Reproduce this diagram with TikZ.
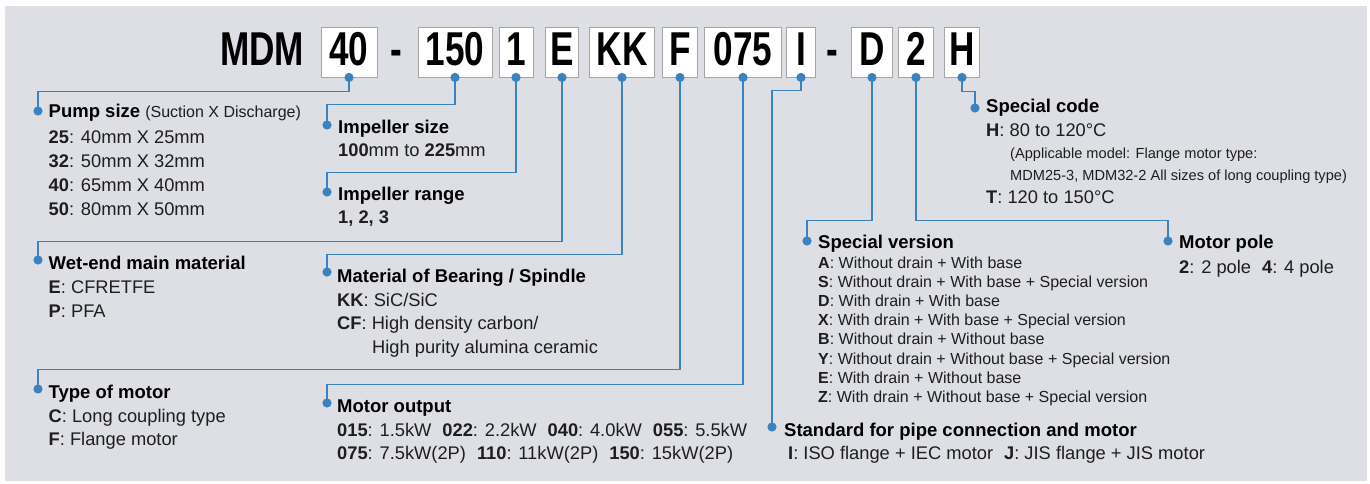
\documentclass[tikz,border=0pt]{standalone}
\usepackage{fontspec}
\setmainfont{Liberation Sans}
\newfontfamily\condfont[FakeStretch=0.74]{Liberation Sans}
\definecolor{bggray}{RGB}{222,223,228}
\definecolor{linkblue}{RGB}{58,130,192}
\definecolor{boxgray}{RGB}{165,165,165}
\definecolor{bodyblack}{RGB}{30,30,30}
\begin{document}
\begin{tikzpicture}[x=1pt,y=-1pt,
  link/.style={draw=linkblue, line width=1.4pt},
  codebox/.style={draw=boxgray, fill=white, line width=0.9pt, anchor=base, inner xsep=0pt, inner ysep=0pt, text height=39pt, text depth=11pt, font=\condfont\bfseries\fontsize{47.5}{50}\selectfont},
  bigtxt/.style={anchor=base, inner sep=0pt, font=\condfont\bfseries\fontsize{47.5}{50}\selectfont},
  ttl/.style={anchor=base west, inner sep=0pt, font=\bfseries\fontsize{18.5}{22}\selectfont},
  txt/.style={anchor=base west, inner sep=0pt, text=bodyblack, font=\fontsize{18.3}{21}\selectfont},
  smalltxt/.style={anchor=base west, inner sep=0pt, text=bodyblack, font=\fontsize{14.6}{18}\selectfont},
  svtxt/.style={anchor=base west, inner sep=0pt, text=bodyblack, font=\fontsize{16}{19}\selectfont}
]
\useasboundingbox (0,0) rectangle (1370,484);
\fill[white] (0,0) rectangle (1370,484);
\fill[bggray] (5,6) rectangle (1367,481);

% code line
\node[bigtxt] (mdm) at (262,66) {MDM};
\node[codebox, minimum width=56pt] (b40) at (349,66) {40};
\node[bigtxt] (dash1) at (396,66) {-};
\node[codebox, minimum width=74pt] (b150) at (455,66) {150};
\node[codebox, minimum width=34pt] (b1) at (516,66) {1};
\node[codebox, minimum width=33pt] (bE) at (562,66) {E};
\node[codebox, minimum width=65pt] (bKK) at (622,66) {KK};
\node[codebox, minimum width=35pt] (bF) at (680,66) {F};
\node[codebox, minimum width=77pt] (b075) at (743,66) {075};
\node[codebox, minimum width=29pt] (bI) at (801,66) {I};
\node[bigtxt] (dash2) at (832,66) {-};
\node[codebox, minimum width=41pt] (bD) at (872,66) {D};
\node[codebox, minimum width=35pt] (b2) at (916,66) {2};
\node[codebox, minimum width=35pt] (bH) at (962,66) {H};

% end points
\coordinate (dPump) at (38,111);
\coordinate (dImpS) at (327,125);
\coordinate (dImpR) at (327,192);
\coordinate (dWet) at (38,260);
\coordinate (dMat) at (327,272);
\coordinate (dType) at (38,389);
\coordinate (dOut) at (327,403);
\coordinate (dStd) at (772,427);
\coordinate (dSV) at (807,241);
\coordinate (dPole) at (1168,241);
\coordinate (dCode) at (975,108);

% connectors
\draw[link] (b40.south) -- ++(0,14) -| (dPump);
\draw[link] (b150.south) -- ++(0,27) -| (dImpS);
\draw[link] (b1.south) -- ++(0,95) -| (dImpR);
\draw[link] (bE.south) -- ++(0,164) -| (dWet);
\draw[link] (bKK.south) -- ++(0,177) -| (dMat);
\draw[link] (bF.south) -- ++(0,292) -| (dType);
\draw[link] (b075.south) -- ++(0,307) -| (dOut);
\draw[link] (bI.south) -- ++(0,13) -| (dStd);
\draw[link] (bD.south) -- ++(0,143) -| (dSV);
\draw[link] (b2.south) -- ++(0,143) -| (dPole);
\draw[link] (bH.south) -- ++(0,14) -| (dCode);

\foreach \c in {b40.south,b150.south,b1.south,bE.south,bKK.south,bF.south,b075.south,bI.south,bD.south,b2.south,bH.south,dPump,dImpS,dImpR,dWet,dMat,dType,dOut,dStd,dSV,dPole,dCode}
  \fill[linkblue] (\c) circle[radius=4.6pt];

% Pump size
\node[ttl] (tPump) at (48.5,118) {Pump size {\mdseries\color{bodyblack}\fontsize{16}{18}\selectfont(Suction X Discharge)}};
\node[txt] (pump1) at (48.5,143) {\textbf{25}: 40mm X 25mm};
\node[txt] (pump2) at (48.5,167) {\textbf{32}: 50mm X 32mm};
\node[txt] (pump3) at (48.5,191) {\textbf{40}: 65mm X 40mm};
\node[txt] (pump4) at (48.5,215) {\textbf{50}: 80mm X 50mm};

% Impeller size / range
\node[ttl] (tImpS) at (338,133) {Impeller size};
\node[txt] (imps1) at (338,157) {\textbf{100}mm to \textbf{225}mm};
\node[ttl] (tImpR) at (338,200) {Impeller range};
\node[txt] (impr1) at (338,223) {\textbf{1, 2, 3}};

% Wet-end
\node[ttl] (tWet) at (48.5,269) {Wet-end main material};
\node[txt] (wet1) at (48.5,293) {\textbf{E}: CFRETFE};
\node[txt] (wet2) at (48.5,317) {\textbf{P}: PFA};

% Material
\node[ttl] (tMat) at (337,282) {Material of Bearing / Spindle};
\node[txt] (mat1) at (337,306) {\textbf{KK}: SiC/SiC};
\node[txt] (mat2) at (337,329) {\textbf{CF}: High density carbon/};
\node[txt] (mat3) at (372,353) {High purity alumina ceramic};

% Type of motor
\node[ttl] (tType) at (48.5,398) {Type of motor};
\node[txt] (type1) at (48.5,422) {\textbf{C}: Long coupling type};
\node[txt] (type2) at (48.5,445) {\textbf{F}: Flange motor};

% Motor output
\node[ttl] (tOut) at (337,412) {Motor output};
\node[txt] (out1) at (337,436) {\textbf{015}: 1.5kW\hspace{0.6em}\textbf{022}: 2.2kW\hspace{0.6em}\textbf{040}: 4.0kW\hspace{0.6em}\textbf{055}: 5.5kW};
\node[txt] (out2) at (337,459) {\textbf{075}: 7.5kW(2P)\hspace{0.6em}\textbf{110}: 11kW(2P)\hspace{0.6em}\textbf{150}: 15kW(2P)};

% Special code
\node[ttl] (tCode) at (986,113) {Special code};
\node[txt] (code1) at (986,137) {\textbf{H}: 80 to 120°C};
\node[smalltxt] (code2) at (1010,158) {(Applicable model: Flange motor type:};
\node[smalltxt] (code3) at (1010,180) {MDM25-3, MDM32-2 All sizes of long coupling type)};
\node[txt] (code4) at (986,203) {\textbf{T}: 120 to 150°C};

% Special version
\node[ttl] (tSV) at (818,248) {Special version};
\node[svtxt] (sv1) at (818,268) {\textbf{A}: Without drain + With base};
\node[svtxt] (sv2) at (818,287.2) {\textbf{S}: Without drain + With base + Special version};
\node[svtxt] (sv3) at (818,306.4) {\textbf{D}: With drain + With base};
\node[svtxt] (sv4) at (818,325.6) {\textbf{X}: With drain + With base + Special version};
\node[svtxt] (sv5) at (818,344.8) {\textbf{B}: Without drain + Without base};
\node[svtxt] (sv6) at (818,364) {\textbf{Y}: Without drain + Without base + Special version};
\node[svtxt] (sv7) at (818,383.2) {\textbf{E}: With drain + Without base};
\node[svtxt] (sv8) at (818,402.4) {\textbf{Z}: With drain + Without base + Special version};

% Motor pole
\node[ttl] (tPole) at (1179,248) {Motor pole};
\node[txt] (pole1) at (1179,273) {\textbf{2}: 2 pole\hspace{0.6em}\textbf{4}: 4 pole};

% Standard
\node[ttl] (tStd) at (784,436) {Standard for pipe connection and motor};
\node[txt] (std1) at (788,459) {\textbf{I}: ISO flange + IEC motor\hspace{0.6em}\textbf{J}: JIS flange + JIS motor};
\end{tikzpicture}
\end{document}
